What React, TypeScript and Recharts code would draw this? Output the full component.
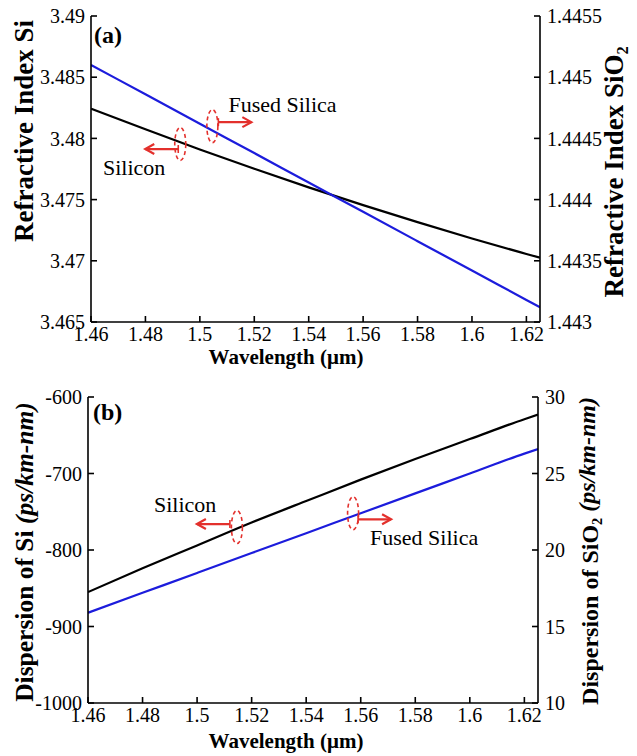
import React from 'react';
import { LineChart, Line, XAxis, YAxis, ReferenceDot } from 'recharts';

// ---- data ----
const wavelengths = [1.46, 1.48, 1.5, 1.52, 1.54, 1.56, 1.58, 1.6, 1.62, 1.625];
const siIndex = [3.48243, 3.48074, 3.4791, 3.47752, 3.476, 3.47455, 3.47316, 3.47182, 3.47056, 3.47025];
const silicaIndex = [1.4451, 1.44486, 1.44462, 1.44438, 1.44414, 1.4439, 1.44366, 1.44342, 1.44318, 1.44312];
const siDispersion = [-855, -824, -794, -764, -736, -708, -681, -655, -629, -623];
const silicaDispersion = [15.9, 17.2, 18.5, 19.8, 21.1, 22.4, 23.7, 25.0, 26.3, 26.6];

const xTicks = [1.46, 1.48, 1.5, 1.52, 1.54, 1.56, 1.58, 1.6, 1.62];
const siIndexTicks = [3.465, 3.47, 3.475, 3.48, 3.485, 3.49];
const silicaIndexTicks = [1.443, 1.4435, 1.444, 1.4445, 1.445, 1.4455];
const siDispTicks = [-1000, -900, -800, -700, -600];
const silicaDispTicks = [10, 15, 20, 25, 30];

const indexRows = wavelengths.map((x, i) => ({ x, si: siIndex[i], silica: silicaIndex[i] }));
const dispRows = wavelengths.map((x, i) => ({ x, si: siDispersion[i], silica: silicaDispersion[i] }));

const FONT = 'Liberation Serif';
const CSS = `
.chartwrap svg text, .chartwrap svg tspan {
  font-family: 'Liberation Serif', 'Times New Roman', Times, serif !important;
}`;
const RED = '#e3302c';
const BLUE = '#1c1cdc';
const fmt = (v: number) => String(Number(v.toFixed(4)));
const tickStyle = { fill: '#000', fontSize: 20, fontFamily: FONT };
const axisLine = { stroke: '#000', strokeWidth: 1.6 };

const rotTitle = (x: number, cy: number, size: number, parts: React.ReactNode) => () => (
  <text x={x} y={cy} transform={`rotate(-90, ${x}, ${cy})`} textAnchor="middle"
    fontFamily={FONT} fontSize={size} fontWeight="bold" fill="#000">{parts}</text>
);
const xTitle = (cx: number, y: number) => () => (
  <text x={cx} y={y} textAnchor="middle" fontFamily={FONT} fontSize={21} fontWeight="bold" fill="#000">
    Wavelength (μm)
  </text>
);

const bracket = (dir: number, start: number, dy: number) => (p: any) => {
  const { cx, cy } = p;
  if (cx == null || cy == null) return <g />;
  const x0 = cx + dir * start;
  const x1 = cx + dir * (start + 33);
  const y = cy + dy;
  return (
    <g>
      <ellipse cx={cx} cy={cy} rx={5.5} ry={16.5} fill="none" stroke={RED} strokeWidth={1.6} strokeDasharray="4 3" />
      <line x1={x0} y1={y - 4} x2={x0} y2={y + 4} stroke={RED} strokeWidth={1.6} />
      <line x1={x0} y1={y} x2={x1} y2={y} stroke={RED} strokeWidth={2.2} />
      <polyline points={`${x1 - dir * 9},${y - 5} ${x1},${y} ${x1 - dir * 9},${y + 5}`} fill="none" stroke={RED} strokeWidth={2.2} />
    </g>
  );
};
const textShape = (label: string, size: number, bold = false) => (p: any) => {
  const { cx, cy } = p;
  if (cx == null || cy == null) return <g />;
  return (
    <text x={cx} y={cy} fontFamily={FONT} fontSize={size} fontWeight={bold ? 'bold' : 'normal'} fill="#000">{label}</text>
  );
};

export default function App() {
  return (
    <div className="chartwrap" style={{ position: 'absolute', left: 0, top: 0, width: 637, height: 756, background: '#fff', fontFamily: FONT }}>
      <style>{CSS}</style>
      <div style={{ position: 'absolute', left: 0, top: 0 }}>
        <LineChart width={637} height={380} data={indexRows} margin={{ top: 16, right: 0, bottom: 0, left: 0 }}>
          <XAxis xAxisId="b" type="number" dataKey="x" domain={[1.46, 1.625]} ticks={xTicks} interval={0}
            tickFormatter={fmt} tick={tickStyle} tickSize={-6} tickMargin={11} height={58} allowDataOverflow
            axisLine={axisLine} tickLine={axisLine} label={{ content: xTitle(286, 364) }} />
          <XAxis xAxisId="t" orientation="top" type="number" dataKey="x" domain={[1.46, 1.625]} ticks={xTicks}
            interval={0} tickFormatter={() => ''} tickSize={-6} height={0} allowDataOverflow
            axisLine={axisLine} tickLine={axisLine} />
          <YAxis yAxisId="left" type="number" domain={[3.465, 3.49]} ticks={siIndexTicks} interval={0}
            tickFormatter={fmt} tick={tickStyle} tickSize={-6} tickMargin={12} width={91} allowDataOverflow
            axisLine={axisLine} tickLine={axisLine}
            label={{ content: rotTitle(33, 131, 27, 'Refractive Index Si') }} />
          <YAxis yAxisId="right" orientation="right" type="number" domain={[1.443, 1.4455]} ticks={silicaIndexTicks}
            interval={0} tickFormatter={fmt} tick={tickStyle} tickSize={-6} tickMargin={13} width={97} allowDataOverflow
            axisLine={axisLine} tickLine={axisLine}
            label={{ content: rotTitle(623, 172, 27, <>Refractive Index SiO<tspan fontSize="0.6em" dy="0.3em">2</tspan></>) }} />
          <Line xAxisId="b" yAxisId="left" type="monotone" dataKey="si" stroke="#000" strokeWidth={2.2} dot={false} isAnimationActive={false} />
          <Line xAxisId="b" yAxisId="right" type="monotone" dataKey="silica" stroke={BLUE} strokeWidth={2.2} dot={false} isAnimationActive={false} />
          <ReferenceDot xAxisId="b" yAxisId="right" x={1.5046} y={1.4446} ifOverflow="visible" shape={bracket(1, 6, -4)} />
          <ReferenceDot xAxisId="b" yAxisId="left" x={1.4928} y={3.47954} ifOverflow="visible" shape={bracket(-1, 2, 5)} />
          <ReferenceDot xAxisId="b" yAxisId="right" x={1.5105} y={1.444716} ifOverflow="visible" shape={textShape('Fused Silica', 22)} />
          <ReferenceDot xAxisId="b" yAxisId="left" x={1.4644} y={3.47701} ifOverflow="visible" shape={textShape('Silicon', 22)} />
          <ReferenceDot xAxisId="b" yAxisId="left" x={1.4611} y={3.4878} ifOverflow="visible" shape={textShape('(a)', 24, true)} />
        </LineChart>
      </div>
      <div style={{ position: 'absolute', left: 0, top: 380 }}>
        <LineChart width={637} height={376} data={dispRows} margin={{ top: 17, right: 0, bottom: 0, left: 0 }}>
          <XAxis xAxisId="b" type="number" dataKey="x" domain={[1.46, 1.625]} ticks={xTicks} interval={0}
            tickFormatter={fmt} tick={tickStyle} tickSize={-6} tickMargin={11} height={53} allowDataOverflow
            axisLine={axisLine} tickLine={axisLine} label={{ content: xTitle(286, 368) }} />
          <XAxis xAxisId="t" orientation="top" type="number" dataKey="x" domain={[1.46, 1.625]} ticks={xTicks}
            interval={0} tickFormatter={() => ''} tickSize={-6} height={0} allowDataOverflow
            axisLine={axisLine} tickLine={axisLine} />
          <YAxis yAxisId="left" type="number" domain={[-1000, -600]} ticks={siDispTicks} interval={0}
            tickFormatter={fmt} tick={tickStyle} tickSize={-6} tickMargin={12} width={88} allowDataOverflow
            axisLine={axisLine} tickLine={axisLine}
            label={{ content: rotTitle(33, 172, 25.5, <>Dispersion of Si <tspan fontStyle="italic">(ps/km-nm)</tspan></>) }} />
          <YAxis yAxisId="right" orientation="right" type="number" domain={[10, 30]} ticks={silicaDispTicks}
            interval={0} tickFormatter={fmt} tick={tickStyle} tickSize={-6} tickMargin={13} width={99} allowDataOverflow
            axisLine={axisLine} tickLine={axisLine}
            label={{ content: rotTitle(598, 171, 24, <>Dispersion of SiO<tspan fontSize="0.6em" dy="0.3em">2</tspan><tspan dy="-0.3em"> </tspan><tspan fontStyle="italic">(ps/km-nm)</tspan></>) }} />
          <Line xAxisId="b" yAxisId="left" type="monotone" dataKey="si" stroke="#000" strokeWidth={2.2} dot={false} isAnimationActive={false} />
          <Line xAxisId="b" yAxisId="right" type="monotone" dataKey="silica" stroke={BLUE} strokeWidth={2.2} dot={false} isAnimationActive={false} />
          <ReferenceDot xAxisId="b" yAxisId="left" x={1.5146} y={-770} ifOverflow="visible" shape={bracket(-1, 7, -3)} />
          <ReferenceDot xAxisId="b" yAxisId="right" x={1.5572} y={22.4} ifOverflow="visible" shape={bracket(1, 5, 6)} />
          <ReferenceDot xAxisId="b" yAxisId="left" x={1.4842} y={-750.3} ifOverflow="visible" shape={textShape('Silicon', 22)} />
          <ReferenceDot xAxisId="b" yAxisId="right" x={1.5634} y={20.33} ifOverflow="visible" shape={textShape('Fused Silica', 22)} />
          <ReferenceDot xAxisId="b" yAxisId="left" x={1.4618} y={-630} ifOverflow="visible" shape={textShape('(b)', 24, true)} />
        </LineChart>
      </div>
    </div>
  );
}
